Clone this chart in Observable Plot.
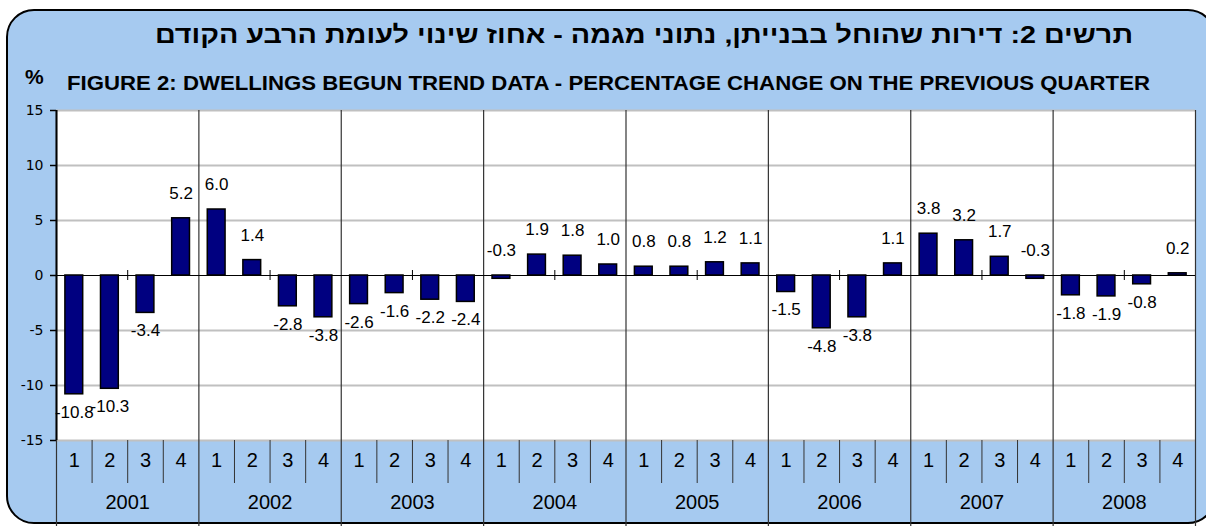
<!DOCTYPE html>
<html><head><meta charset="utf-8">
<script src="https://cdn.jsdelivr.net/npm/d3@7"></script>
<script src="https://cdn.jsdelivr.net/npm/@observablehq/plot@0.6"></script>
<style>
html,body{margin:0;padding:0;background:#fff;}
#wrap{position:relative;width:1206px;height:526px;overflow:hidden;}
#box{position:absolute;left:6px;top:9px;width:1210px;height:515px;border:2px solid #000;border-radius:28px;background:#a6caf0;box-sizing:border-box;}
.t{position:absolute;white-space:nowrap;font-family:"Liberation Sans",Arial,sans-serif;font-weight:bold;color:#000;line-height:1;transform-origin:0 50%;}
#chart{position:absolute;left:0;top:0;}
</style></head><body>
<div id="wrap">
  <div id="box"></div>
  <div id="title" class="t" dir="rtl" style="font-size:24px;">תרשים 2: דירות שהוחל בבנייתן, נתוני מגמה - אחוז שינוי לעומת הרבע הקודם</div>
  <div id="sub" class="t" style="font-size:21px;">FIGURE 2: DWELLINGS BEGUN TREND DATA - PERCENTAGE CHANGE ON THE PREVIOUS QUARTER</div>
  <div id="pct" class="t" style="font-size:21px;">%</div>
  <div id="chart"></div>
</div>
<script>
const years = [2001, 2002, 2003, 2004, 2005, 2006, 2007, 2008];
const quarters = ["1", "2", "3", "4"];
const values = [
  -10.8, -10.3, -3.4, 5.2,
  6.0, 1.4, -2.8, -3.8,
  -2.6, -1.6, -2.2, -2.4,
  -0.3, 1.9, 1.8, 1.0,
  0.8, 0.8, 1.2, 1.1,
  -1.5, -4.8, -3.8, 1.1,
  3.8, 3.2, 1.7, -0.3,
  -1.8, -1.9, -0.8, 0.2
];
const yTicks = [-15, -10, -5, 0, 5, 10, 15];

const data = values.map((v, i) => ({i, year: years[Math.floor(i / quarters.length)], q: quarters[i % quarters.length], v}));
const nq = quarters.length;
const W = 1206, H = 526, mT = 110, mB = 86, mL = 56, mR = 11;
const plotH = H - mT - mB;
const font = "Liberation Sans, Arial, sans-serif";

const chart = Plot.plot({
  width: W, height: H,
  marginTop: mT, marginBottom: mB, marginLeft: mL, marginRight: mR,
  x: {type: "linear", domain: [0, values.length], axis: null},
  y: {domain: [-15, 15], axis: null},
  style: {background: "transparent", fontFamily: font, overflow: "visible", color: "#000"},
  marks: [
    Plot.frame({fill: "white", stroke: "none"}),
    Plot.ruleY(yTicks.filter(t => t !== 0), {stroke: "#c0c0c0", strokeWidth: 2}),
    Plot.ruleX(d3.range(1, values.length).filter(k => k % nq), {stroke: "#333", strokeWidth: 1, insetTop: plotH, insetBottom: -43}),
    Plot.ruleX(d3.range(0, values.length + 1, nq), {stroke: "#333", strokeWidth: 1.2, insetBottom: -mB}),
    Plot.ruleX([0], {stroke: "#000", strokeWidth: 2}),
    Plot.ruleY([0], {stroke: "#000", strokeWidth: 1}),
    Plot.ruleX(d3.range(2, values.length, nq), {y1: 0, y2: 0, insetTop: -5, insetBottom: -5, stroke: "#000", strokeWidth: 1}),
    Plot.rectY(data, {x1: d => d.i + 0.25, x2: d => d.i + 0.75, y1: 0, y2: "v", fill: "#000080", stroke: "#000", strokeWidth: 1.5}),
    Plot.text(data.filter(d => d.v >= -0.5), {x: d => d.i + 0.5, y: d => Math.max(d.v, 0), text: d => d.v.toFixed(1), dy: -25, fontSize: 17, fill: "#000"}),
    Plot.text(data.filter(d => d.v < -0.5), {x: d => d.i + 0.5, y: "v", text: d => d.v.toFixed(1), dy: 18, fontSize: 17, fill: "#000"}),
    Plot.text(data, {x: d => d.i + 0.5, text: "q", frameAnchor: "bottom", dy: 26, fontSize: 20, fill: "#000"}),
    Plot.text(years, {x: (d, k) => k * nq + nq / 2, text: d => String(d), frameAnchor: "bottom", dy: 68, fontSize: 20, fill: "#000"}),
    Plot.axisY({ticks: yTicks, label: null, tickFormat: d => String(d), tickSize: 6, tickPadding: 7, fontSize: 14, fontFamily: "DejaVu Sans", stroke: "#000", strokeWidth: 1.5, fill: "#000"})
  ]
});
document.getElementById("chart").appendChild(chart);

function fit(id, left, right, cy) {
  const el = document.getElementById(id);
  const r = el.getBoundingClientRect();
  const s = (right - left) / r.width;
  el.style.left = left + "px";
  el.style.top = (cy - r.height / 2) + "px";
  el.style.transform = `scaleX(${s})`;
}
fit("title", 155, 1133, 35);
fit("sub", 67, 1150, 82);
const p = document.getElementById("pct");
p.style.left = "25px"; p.style.top = (76 - p.getBoundingClientRect().height / 2) + "px";
</script>
</body></html>
